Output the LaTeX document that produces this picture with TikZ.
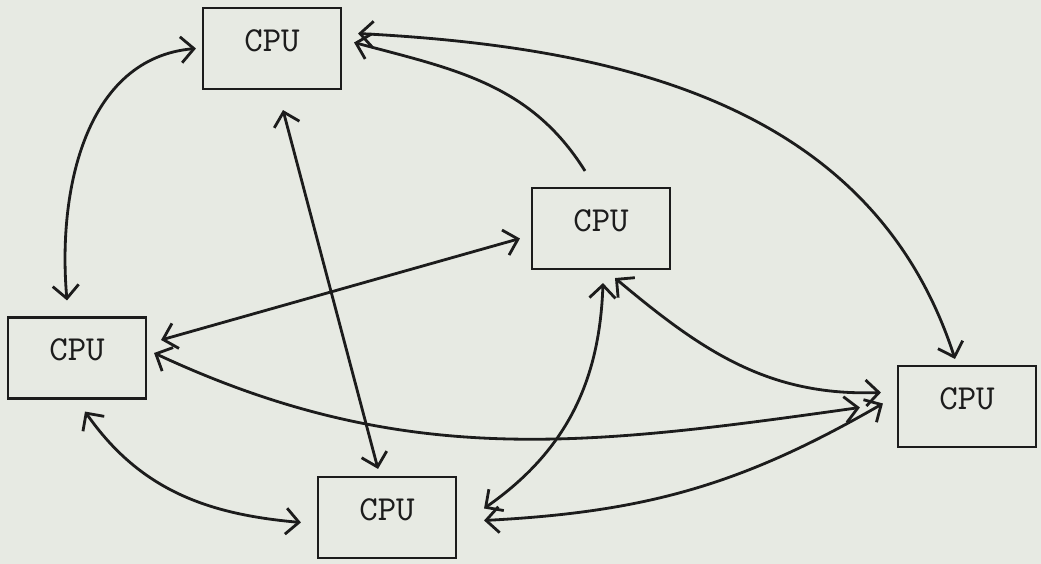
\documentclass[tikz,border=0pt]{standalone}
\usetikzlibrary{arrows.meta}
\definecolor{paper}{RGB}{231,234,227}
\definecolor{ink}{RGB}{28,28,28}
\begin{document}
\begin{tikzpicture}[>={Straight Barb[length=1.3mm,width=2.6mm]},
  cpu/.style={draw=ink, line width=0.6pt, minimum width=1.38cm, minimum height=0.81cm,
    text depth=0.16cm, text=ink, font=\fontsize{10}{12}\selectfont\ttfamily},
  link/.style={draw=ink, line width=0.8pt, <->}]
\fill[paper] (0,0) rectangle (10.41,-5.64);
%
\draw(2.72,-0.485) node[cpu](top){CPU};
\draw(6.01,-2.285) node[cpu](mid){CPU};
\draw(0.77,-3.58) node[cpu](left){CPU};
\draw(3.87,-5.175) node[cpu](bottom){CPU};
\draw(9.67,-4.065) node[cpu](right){CPU};
%
\draw[link] ([xshift=-0.06cm]top.west) to[out=185, in=95]
  ([xshift=-0.1cm, yshift=0.16cm]left.north);
\draw[link] ([xshift=0.16cm, yshift=0.15cm]top.east) to[out=-3, in=108]
  ([xshift=-0.12cm, yshift=0.06cm]right.north);
\draw[link, <-] ([xshift=0.12cm, yshift=0.06cm]top.east) to[out=-15, in=122]
  ([xshift=-0.16cm, yshift=0.16cm]mid.north);
\draw[link] ([xshift=0.11cm, yshift=-0.2cm]top.south) --
  ([xshift=-0.09cm, yshift=0.07cm]bottom.north);
%
\draw[link] ([xshift=-0.11cm, yshift=-0.1cm]mid.west) --
  ([xshift=0.14cm, yshift=0.18cm]left.east);
\draw[link] ([xshift=0.02cm, yshift=-0.13cm]mid.south) to[out=-92, in=35]
  ([xshift=0.27cm, yshift=0.09cm]bottom.east);
\draw[link] ([xshift=0.14cm, yshift=-0.08cm]mid.south) to[out=-40, in=182]
  ([xshift=-0.16cm, yshift=0.14cm]right.west);
%
\draw[link] ([xshift=0.07cm, yshift=0.05cm]left.east) to[out=-25, in=188]
  ([xshift=-0.37cm, yshift=-0.01cm]right.west);
\draw[link] ([xshift=0.08cm, yshift=-0.12cm]left.south) to[out=-55, in=175]
  ([xshift=-0.16cm, yshift=-0.05cm]bottom.west);
\draw[link] ([xshift=0.27cm, yshift=-0.03cm]bottom.east) to[out=3, in=-150]
  ([xshift=-0.14cm, yshift=0.03cm]right.west);
\end{tikzpicture}
\end{document}
